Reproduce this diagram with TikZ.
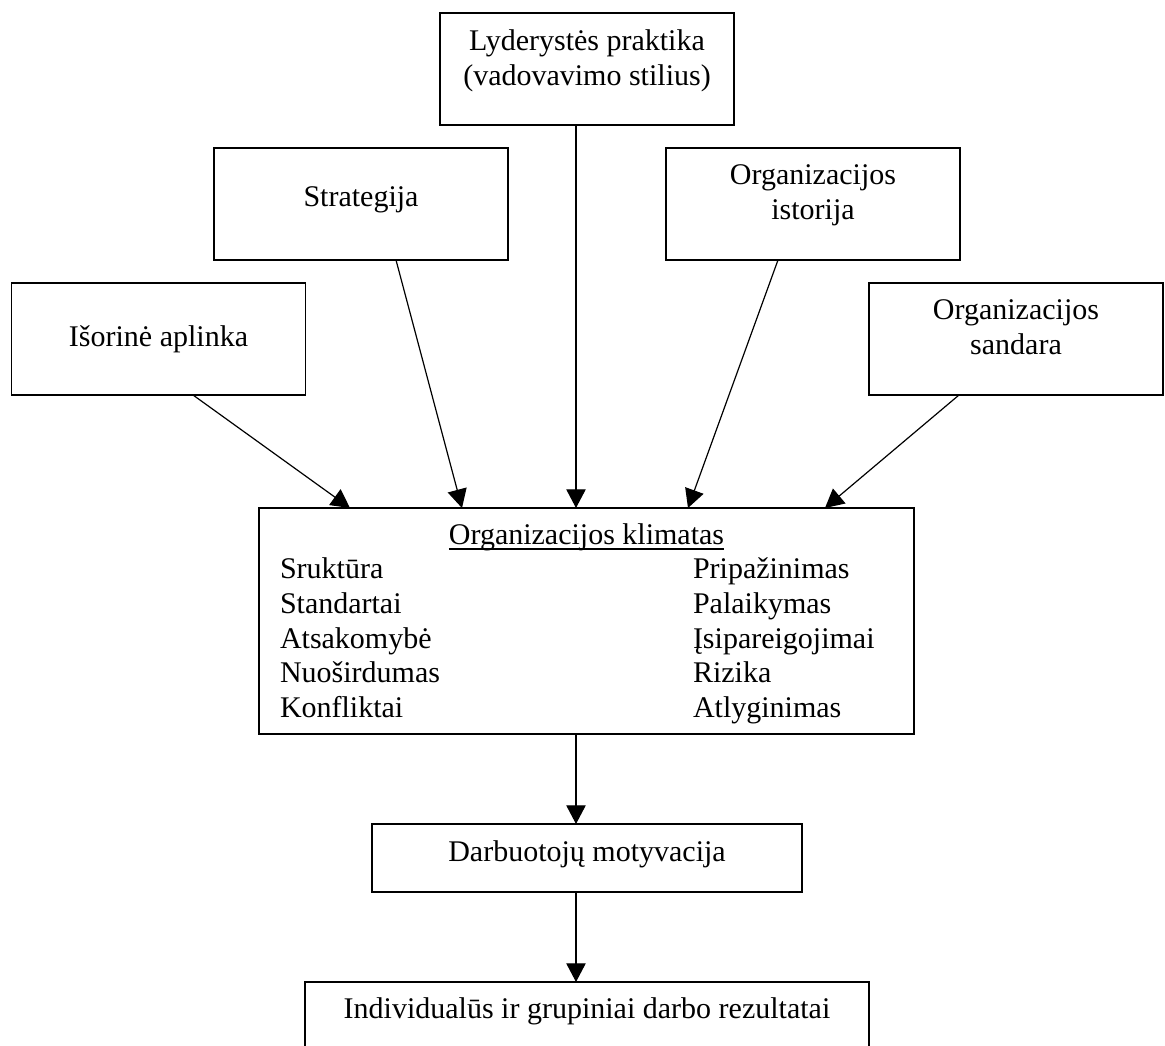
\documentclass[tikz,border=0pt]{standalone}
\usepackage{fontspec}
\setmainfont{Liberation Serif}
\usetikzlibrary{arrows.meta,calc}
\tikzset{
  box/.style={draw, line width=1pt, inner sep=0pt, outer sep=0pt, minimum width=220.5pt, minimum height=84pt},
  txt/.style={inner sep=0pt, outer sep=0pt, anchor=base, font=\fontsize{22.5pt}{26pt}\selectfont},
  coltxt/.style={txt, anchor=base west},
  arr/.style={line width=0.9pt, -{Triangle[length=14pt,width=14.5pt]}}
}
\begin{document}
\begin{tikzpicture}[x=0.75pt,y=-0.75pt]
\fill[white] (0,0) rectangle (1165,1046);
\useasboundingbox (0,0) rectangle (1165,1046);

% boxes
\node[box] (lyd) at (587,69) {};
\node[box] (strat) at (361,204) {};
\node[box] (ist) at (813,204) {};
\node[box] (isor) at (158.5,339) {};
\node[box] (sand) at (1016,339) {};
\node[box, minimum width=491.25pt, minimum height=169.5pt] (klim) at (586.5,621) {};
\node[box, minimum width=322.5pt, minimum height=51pt] (darb) at (587,858) {};
\node[box, minimum width=423pt, minimum height=58.5pt] (ind) at (587,1021) {};

% texts
\node[txt] (lydA) at (587,50) {Lyderystės praktika};
\node[txt] (lydB) at (587,85) {(vadovavimo stilius)};
\node[txt] (stratA) at (361,206) {Strategija};
\node[txt] (istA) at (813,184) {Organizacijos};
\node[txt] (istB) at (813,219) {istorija};
\node[txt] (isorA) at (158.5,346) {Išorinė aplinka};
\node[txt] (sandA) at (1016,319) {Organizacijos};
\node[txt] (sandB) at (1016,354) {sandara};
\node[txt] (klimA) at (586.5,544) {Organizacijos klimatas};
\draw[line width=1.1pt] ($(klimA.base west)+(0,5)$) -- ($(klimA.base east)+(0,5)$);

\node[coltxt] (l1) at (280,578.7) {Sruktūra};
\node[coltxt] (l2) at (280,613.3) {Standartai};
\node[coltxt] (l3) at (280,648) {Atsakomybė};
\node[coltxt] (l4) at (280,682.7) {Nuoširdumas};
\node[coltxt] (l5) at (280,717.3) {Konfliktai};
\node[coltxt] (r1) at (693,578.7) {Pripažinimas};
\node[coltxt] (r2) at (693,613.3) {Palaikymas};
\node[coltxt] (r3) at (693,648) {Įsipareigojimai};
\node[coltxt] (r4) at (693,682.7) {Rizika};
\node[coltxt] (r5) at (693,717.3) {Atlyginimas};

\node[txt] (darbA) at (587,861) {Darbuotojų motyvacija};
\node[txt] (indA) at (587,1018) {Individualūs ir grupiniai darbo rezultatai};

% connectors
\draw[arr] ($(isor.south)+(34.5,0)$) -- ($(klim.north)+(-236.5,0)$);
\draw[arr] ($(strat.south)+(35,0)$) -- ($(klim.north)+(-124.5,0)$);
\draw[arr] ($(lyd.south)+(-11,0)$) -- ($(klim.north)+(-10.5,0)$);
\draw[arr] ($(ist.south)+(-35,0)$) -- ($(klim.north)+(101.5,0)$);
\draw[arr] ($(sand.south)+(-57,0)$) -- ($(klim.north)+(238.5,0)$);
\draw[arr] ($(klim.south)+(-10.5,0)$) -- ($(darb.north)+(-11,0)$);
\draw[arr] ($(darb.south)+(-11,0)$) -- ($(ind.north)+(-11,0)$);
\end{tikzpicture}
\end{document}
